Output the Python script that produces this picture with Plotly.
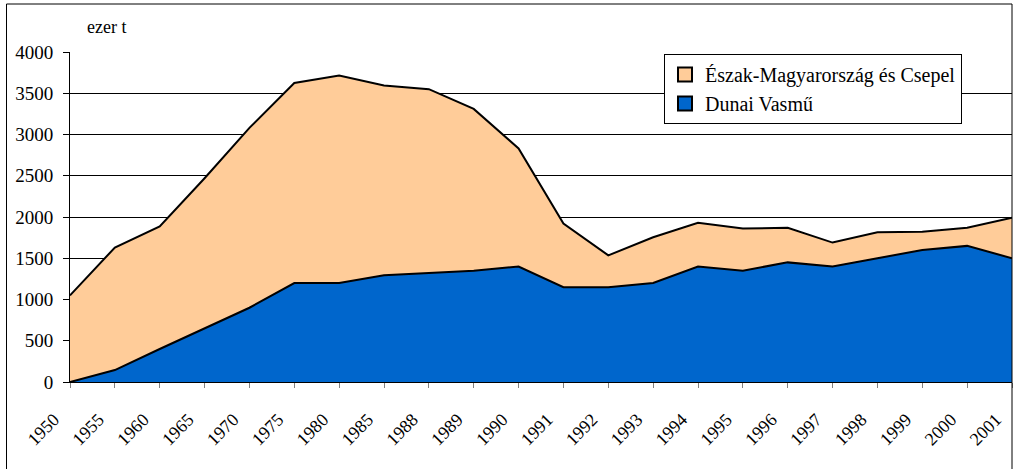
import plotly.graph_objects as go

years = ["1950", "1955", "1960", "1965", "1970", "1975", "1980", "1985", "1988", "1989", "1990",
         "1991", "1992", "1993", "1994", "1995", "1996", "1997", "1998", "1999", "2000", "2001"]
dunai = [0, 145, 400, 650, 900, 1200, 1200, 1295, 1320, 1350, 1400,
         1150, 1150, 1200, 1400, 1350, 1450, 1400, 1500, 1600, 1650, 1500]
total = [1050, 1630, 1885, 2470, 3080, 3625, 3715, 3595, 3550, 3310, 2830,
         1920, 1535, 1755, 1930, 1860, 1870, 1690, 1815, 1820, 1870, 1990]
eszak = [t - d for t, d in zip(total, dunai)]

y_ticks = [0, 500, 1000, 1500, 2000, 2500, 3000, 3500, 4000]

W, H = 1013, 469
L, R, T, B = 70, 1012, 52, 382
FONT = "Liberation Serif"
BLUE = "#0066CC"
PEACH = "#FFCC99"


def px(x):
    return (x - L) / (R - L)


def py(y):
    return (B - y) / (B - T)


fig = go.Figure()
fig.add_trace(go.Scatter(
    x=years, y=dunai, name="Dunai Vasmű", stackgroup="one", mode="lines",
    line=dict(color="black", width=2), fillcolor=BLUE, showlegend=False))
fig.add_trace(go.Scatter(
    x=years, y=eszak, name="Észak-Magyarország és Csepel", stackgroup="one", mode="lines",
    line=dict(color="black", width=2), fillcolor=PEACH, showlegend=False))
# legend entries (square swatches)
for name, col, grp in [("Észak-Magyarország és Csepel", PEACH, "a"), ("Dunai Vasmű", BLUE, "b")]:
    fig.add_trace(go.Scatter(
        x=[None], y=[None], name=name, mode="markers", legendgroup=grp,
        marker=dict(symbol="square", size=14, color=col, line=dict(color="black", width=2))))

fig.update_layout(
    width=W, height=H,
    margin=dict(l=L, r=W - R, t=T, b=H - B, autoexpand=False),
    paper_bgcolor="white", plot_bgcolor="white",
    font=dict(family=FONT, size=18, color="black"),
    showlegend=True,
    legend=dict(x=px(664), y=py(54), xanchor="left", yanchor="top",
                bgcolor="white", bordercolor="black", borderwidth=1,
                traceorder="normal", tracegroupgap=8, itemwidth=30,
                font=dict(family=FONT, size=20, color="black")),
    xaxis=dict(type="category", range=[0, len(years) - 1], showgrid=False,
               tickangle=-45, ticks="outside", ticklen=5, tickcolor="#808080",
               showline=True, linecolor="black", linewidth=1, automargin=False,
               ticklabelshift=-16, ticklabelstandoff=14,
               tickfont=dict(family=FONT, size=18, color="black")),
    yaxis=dict(range=[0, 4000], tickvals=y_ticks, showgrid=True, gridcolor="black",
               gridwidth=1, ticks="outside", ticklen=6, tickcolor="black",
               showline=True, linecolor="black", linewidth=1, zeroline=False,
               automargin=False, ticklabelstandoff=6,
               tickfont=dict(family=FONT, size=19, color="black")),
    annotations=[dict(text="ezer t", xref="paper", yref="paper", x=px(85), y=py(27),
                      xanchor="left", yanchor="middle", showarrow=False,
                      font=dict(family=FONT, size=18, color="black"))],
    shapes=[dict(type="rect", xref="paper", yref="paper",
                 x0=px(6.5), x1=px(1012), y0=py(475), y1=py(4),
                 line=dict(color="black", width=1), layer="above")],
)

fig.write_html("out.html", config={"displayModeBar": False},
               post_script="document.body.style.margin='0';document.body.style.overflow='hidden';")
